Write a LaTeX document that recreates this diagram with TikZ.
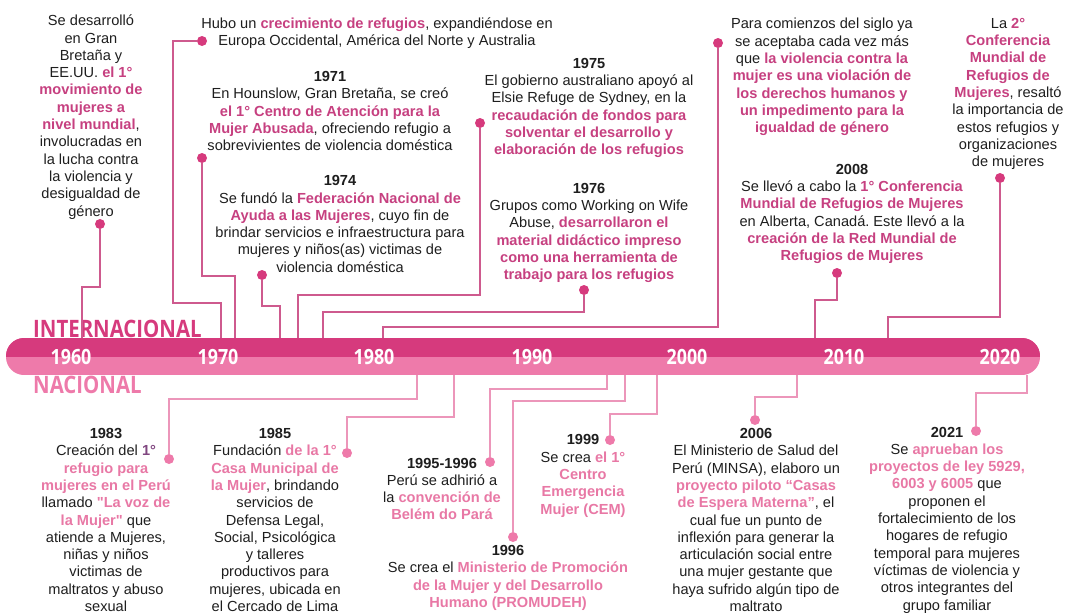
\documentclass[tikz,border=0pt]{standalone}
\usepackage{fontspec}
\setmainfont{Liberation Sans}
\newfontfamily\barfont[FakeStretch=0.85]{Open Sans}

\definecolor{pinkdark}{RGB}{214,58,125}
\definecolor{pinklight}{RGB}{238,122,170}
\definecolor{pinktxt}{RGB}{198,64,128}
\definecolor{pinknat}{RGB}{232,120,165}
\definecolor{linetop}{RGB}{206,90,142}
\definecolor{linebot}{RGB}{236,150,186}
\definecolor{txtgray}{RGB}{30,30,30}
\definecolor{purp}{RGB}{128,70,128}

% resaltados
\newcommand{\pk}[1]{\textbf{\textcolor{pinktxt}{#1}}}
\newcommand{\pn}[1]{\textbf{\textcolor{pinknat}{#1}}}
% comilla recta
\newcommand{\sq}{\XeTeXglyph\XeTeXcharglyph"22\relax}

\tikzset{
  evt/.style={align=center, inner sep=0pt, text=txtgray,
    font=\fontsize{14.6}{17.3}\selectfont},
  topdot/.style={circle, fill=pinkdark, inner sep=0pt, minimum size=10pt},
  botdot/.style={circle, fill=pinklight, inner sep=0pt, minimum size=10pt},
  topline/.style={draw=linetop, line width=1.3pt},
  botline/.style={draw=linebot, line width=1.3pt},
  decade/.style={text=white, font=\barfont\bfseries\fontsize{21}{21}\selectfont},
  side/.style={font=\barfont\bfseries\fontsize{24}{24}\selectfont, inner sep=0pt}
}

\begin{document}
\begin{tikzpicture}[x=1pt,y=-1pt]
\useasboundingbox (0,0) rectangle (1066,613);

% barra
\begin{scope}
  \clip[rounded corners=18pt] (6,338) rectangle (1040,375);
  \fill[pinklight] (6,338) rectangle (1040,375);
  \fill[pinkdark] (6,338) rectangle (1040,357);
\end{scope}
\node[decade] (d60) at (71,357) {1960};
\node[decade] (d70) at (218,357) {1970};
\node[decade] (d80) at (374,357) {1980};
\node[decade] (d90) at (532,357) {1990};
\node[decade] (d00) at (687,357) {2000};
\node[decade] (d10) at (844,357) {2010};
\node[decade] (d20) at (1000,357) {2020};
\node[side, text=pinkdark, anchor=south west] (intl) at (33,338) {INTERNACIONAL};
\node[side, text=pinklight, anchor=north west] (nac) at (33,376) {NACIONAL};

% puntos sobre la barra
\coordinate (b-mov) at (82,338);
\coordinate (b-hubo) at (221,338);
\coordinate (b-y1971) at (235,338);
\coordinate (b-y1974) at (280,338);
\coordinate (b-y1975) at (298,338);
\coordinate (b-y1976) at (323,338);
\coordinate (b-siglo) at (383,338);
\coordinate (b-y2008) at (815,338);
\coordinate (b-conf) at (888,338);
\coordinate (b-y1983) at (417,375);
\coordinate (b-y1985) at (454,375);
\coordinate (b-y9596) at (607,375);
\coordinate (b-y1996) at (625,375);
\coordinate (b-y1999) at (657,375);
\coordinate (b-y2006) at (797,375);
\coordinate (b-y2021) at (1027,375);

% internacional
\node[evt] (t-mov) at (91,117) {Se desarrolló\\en Gran\\Bretaña y\\EE.UU. \pk{el 1°}\\\pk{movimiento de}\\\pk{mujeres a}\\\pk{nivel mundial},\\involucradas en\\la lucha contra\\la violencia y\\desigualdad de\\género};
\node[evt] (t-hubo) at (377,33) {Hubo un \pk{crecimiento de refugios}, expandiéndose en\\Europa Occidental, América del Norte y Australia};
\node[evt] (t-y1971) at (330,111) {\textbf{1971}\\En Hounslow, Gran Bretaña, se creó\\\pk{el 1° Centro de Atención para la}\\\pk{Mujer Abusada}, ofreciendo refugio a\\sobrevivientes de violencia doméstica};
\node[evt] (t-y1974) at (340,224) {\textbf{1974}\\Se fundó la \pk{Federación Nacional de}\\\pk{Ayuda a las Mujeres}, cuyo fin de\\brindar servicios e infraestructura para\\mujeres y niños(as) victimas de\\violencia doméstica};
\node[evt] (t-y1975) at (589,108) {\textbf{1975}\\El gobierno australiano apoyó al\\Elsie Refuge de Sydney, en la\\\pk{recaudación de fondos para}\\\pk{solventar el desarrollo y}\\\pk{elaboración de los refugios}};
\node[evt] (t-y1976) at (589,233) {\textbf{1976}\\Grupos como Working on Wife\\Abuse, \pk{desarrollaron el}\\\pk{material didáctico impreso}\\\pk{como una herramienta de}\\\pk{trabajo para los refugios}};
\node[evt] (t-siglo) at (822,77) {Para comienzos del siglo ya\\se aceptaba cada vez más\\que \pk{la violencia contra la}\\\pk{mujer es una violación de}\\\pk{los derechos humanos y}\\\pk{un impedimento para la}\\\pk{igualdad de género}};
\node[evt] (t-conf) at (1008,94) {La \pk{2°}\\\pk{Conferencia}\\\pk{Mundial de}\\\pk{Refugios de}\\\pk{Mujeres}, resaltó\\la importancia de\\estos refugios y\\organizaciones\\de mujeres};
\node[evt] (t-y2008) at (852,214) {\textbf{2008}\\Se llevó a cabo la \pk{1° Conferencia}\\\pk{Mundial de Refugios de Mujeres}\\en Alberta, Canadá.\ Este llevó a la\\\pk{creación de la Red Mundial de}\\\pk{Refugios de Mujeres}};

\node[topdot] (d-mov) at (100,224) {};
\node[topdot] (d-hubo) at (202,41) {};
\node[topdot] (d-y1971) at (202,158) {};
\node[topdot] (d-y1974) at (262,275) {};
\node[topdot] (d-y1975) at (480,123) {};
\node[topdot] (d-y1976) at (584,290) {};
\node[topdot] (d-siglo) at (718,43) {};
\node[topdot] (d-y2008) at (837,273) {};
\node[topdot] (d-conf) at (1000,178) {};

\draw[topline] (d-mov) |- (b-mov |- 0,287) -- (b-mov);
\draw[topline] (d-hubo) -| (173,303) -- (b-hubo |- 0,303) -- (b-hubo);
\draw[topline] (d-y1971) |- (b-y1971 |- 0,276) -- (b-y1971);
\draw[topline] (d-y1974) |- (b-y1974 |- 0,306) -- (b-y1974);
\draw[topline] (d-y1975) |- (b-y1975 |- 0,295) -- (b-y1975);
\draw[topline] (d-y1976) |- (b-y1976 |- 0,312) -- (b-y1976);
\draw[topline] (d-siglo) |- (b-siglo |- 0,327) -- (b-siglo);
\draw[topline] (d-y2008) |- (b-y2008 |- 0,300) -- (b-y2008);
\draw[topline] (d-conf) |- (b-conf |- 0,317) -- (b-conf);

% nacional
\node[evt] (t-y1983) at (106,520) {\textbf{1983}\\Creación del \textbf{\textcolor{purp}{1°}}\\\pn{refugio para}\\\pn{mujeres en el Perú}\\llamado \pn{\sq La voz de}\\\pn{la Mujer\sq} que\\atiende a Mujeres,\\niñas y niños\\victimas de\\maltratos y abuso\\sexual};
\node[evt] (t-y1985) at (275,520) {\textbf{1985}\\Fundación \pn{de la 1°}\\\pn{Casa Municipal de}\\\pn{la Mujer}, brindando\\servicios de\\Defensa Legal,\\Social, Psicológica\\y talleres\\productivos para\\mujeres, ubicada en\\el Cercado de Lima};
\node[evt] (t-y9596) at (442,489) {\textbf{1995-1996}\\Perú se adhirió a\\la \pn{convención de}\\\pn{Belém do Pará}};
\node[evt] (t-y1999) at (583,476) {\textbf{1999}\\Se crea \pn{el 1°}\\\pn{Centro}\\\pn{Emergencia}\\\pn{Mujer (CEM)}};
\node[evt] (t-y1996) at (508,578) {\textbf{1996}\\Se crea el \pn{Ministerio de Promoción}\\\pn{de la Mujer y del Desarrollo}\\\pn{Humano (PROMUDEH)}};
\node[evt] (t-y2006) at (756,520) {\textbf{2006}\\El Ministerio de Salud del\\Perú (MINSA), elaboro un\\\pn{proyecto piloto “Casas}\\\pn{de Espera Materna”}, el\\cual fue un punto de\\inflexión para generar la\\articulación social entre\\una mujer gestante que\\haya sufrido algún tipo de\\maltrato};
\node[evt] (t-y2021) at (947,520) {\textbf{2021}\\Se \pn{aprueban los}\\\pn{proyectos de ley 5929,}\\\pn{6003 y 6005} que\\proponen el\\fortalecimiento de los\\hogares de refugio\\temporal para mujeres\\víctimas de violencia y\\otros integrantes del\\grupo familiar};

\node[botdot] (d-y1983) at (169,459) {};
\node[botdot] (d-y1985) at (347,453) {};
\node[botdot] (d-y9596) at (490,462) {};
\node[botdot] (d-y1996) at (513,537) {};
\node[botdot] (d-y1999) at (610,440) {};
\node[botdot] (d-y2006) at (755,420) {};
\node[botdot] (d-y2021) at (976,431) {};

\draw[botline] (b-y1983) |- (d-y1983 |- 0,399) -- (d-y1983);
\draw[botline] (b-y1985) |- (d-y1985 |- 0,417) -- (d-y1985);
\draw[botline] (b-y9596) |- (d-y9596 |- 0,389) -- (d-y9596);
\draw[botline] (b-y1996) |- (d-y1996 |- 0,401) -- (d-y1996);
\draw[botline] (b-y1999) |- (d-y1999 |- 0,414) -- (d-y1999);
\draw[botline] (b-y2006) |- (d-y2006 |- 0,397) -- (d-y2006);
\draw[botline] (b-y2021) |- (d-y2021 |- 0,393) -- (d-y2021);
\end{tikzpicture}
\end{document}
